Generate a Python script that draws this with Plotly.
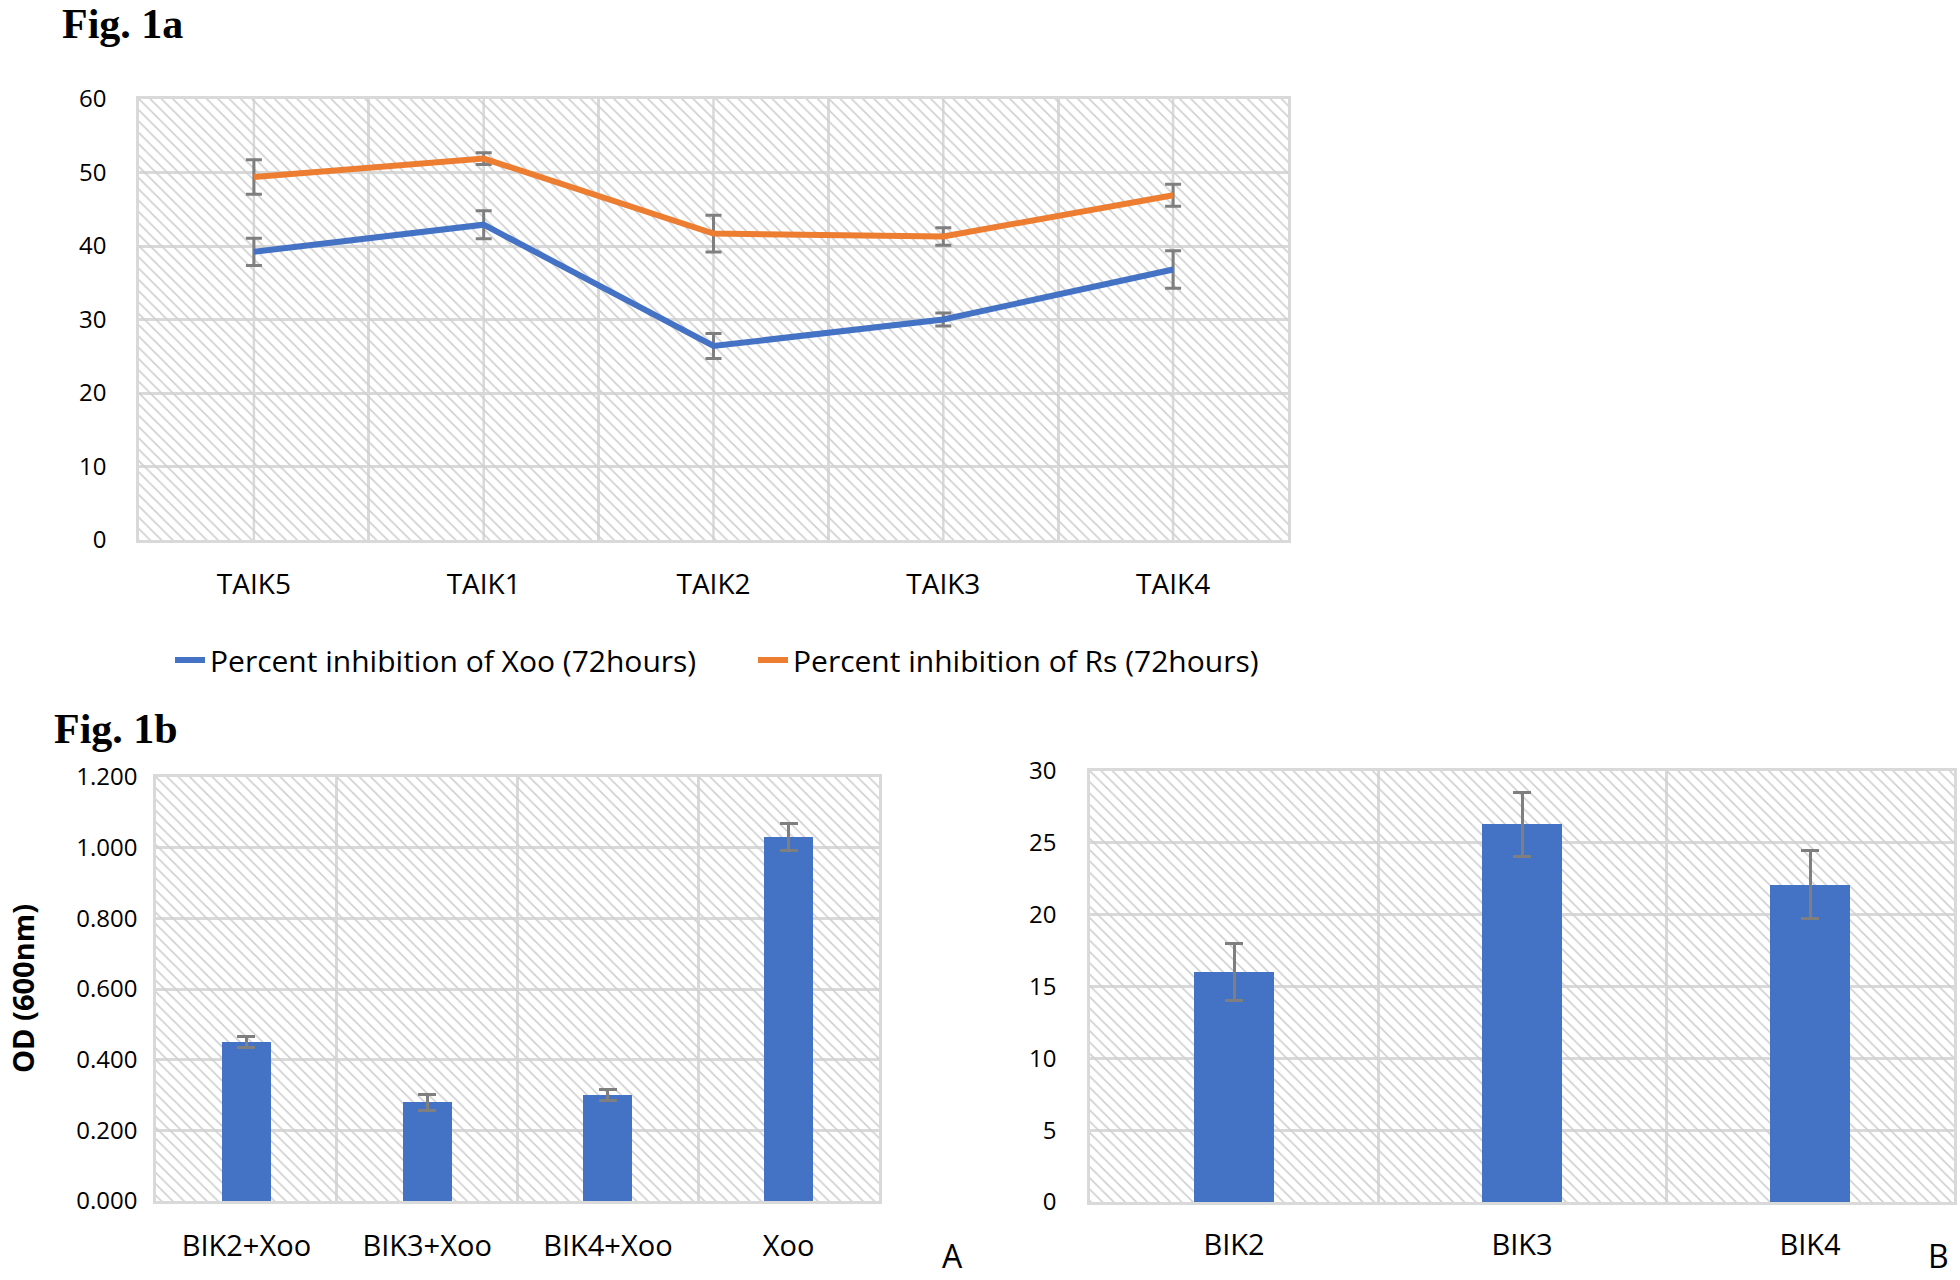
import plotly.graph_objects as go

W, H = 1960, 1280

# ---------------- data ----------------
# Fig. 1a
taik_cats = ["TAIK5", "TAIK1", "TAIK2", "TAIK3", "TAIK4"]
xoo_inhib = [39.2, 42.9, 26.4, 30.0, 36.8]
xoo_inhib_err = [1.85, 1.9, 1.7, 0.9, 2.55]
rs_inhib = [49.4, 51.9, 41.7, 41.3, 46.9]
rs_inhib_err = [2.35, 0.8, 2.5, 1.2, 1.5]
top_y_max, top_y_step = 60, 10

# Fig. 1b A
od_cats = ["BIK2+Xoo", "BIK3+Xoo", "BIK4+Xoo", "Xoo"]
od_vals = [0.450, 0.279, 0.300, 1.030]
od_err = [0.016, 0.022, 0.015, 0.038]
od_y_max, od_y_step = 1.2, 0.2

# Fig. 1b B
bik_cats = ["BIK2", "BIK3", "BIK4"]
bik_vals = [16.0, 26.3, 22.1]
bik_err = [1.97, 2.23, 2.4]
bik_y_max, bik_y_step = 30, 5

# ---------------- style ----------------
FONT = "Open Sans, Lato, sans-serif"
SERIF = "Liberation Serif, Times New Roman, serif"
BLUE = "#4472C4"
ORANGE = "#ED7D31"
ERR = "#7f7f7f"
GRID = "#d9d9d9"
HATCH = "#cfcfcf"


def px_x(v):
    return v / W


def px_y(v):
    return 1 - v / H


def hatch_bar(cats, ymax, xa, ya):
    return go.Bar(
        x=cats, y=[ymax] * len(cats), width=1,
        marker=dict(color=HATCH, line=dict(width=0),
                    pattern=dict(shape="\\", size=8, solidity=0.2, fillmode="replace")),
        hoverinfo="skip", showlegend=False, xaxis=xa, yaxis=ya,
    )


fig = go.Figure()

# top chart
fig.add_trace(hatch_bar(taik_cats, top_y_max, "x", "y"))
fig.add_trace(go.Scatter(
    x=taik_cats, y=xoo_inhib, mode="lines", name="Percent inhibition of Xoo (72hours)",
    line=dict(color=BLUE, width=6),
    error_y=dict(type="data", array=xoo_inhib_err, color=ERR, thickness=3, width=8),
    xaxis="x", yaxis="y",
))
fig.add_trace(go.Scatter(
    x=taik_cats, y=rs_inhib, mode="lines", name="Percent inhibition of Rs (72hours)",
    line=dict(color=ORANGE, width=6),
    error_y=dict(type="data", array=rs_inhib_err, color=ERR, thickness=3, width=8),
    xaxis="x", yaxis="y",
))

# A chart
fig.add_trace(hatch_bar(od_cats, od_y_max, "x2", "y2"))
fig.add_trace(go.Bar(
    x=od_cats, y=od_vals, width=0.27, marker=dict(color=BLUE, line=dict(width=0)),
    error_y=dict(type="data", array=od_err, color=ERR, thickness=3, width=9),
    showlegend=False, xaxis="x2", yaxis="y2",
))

# B chart
fig.add_trace(hatch_bar(bik_cats, bik_y_max, "x3", "y3"))
fig.add_trace(go.Bar(
    x=bik_cats, y=bik_vals, width=0.275, marker=dict(color=BLUE, line=dict(width=0)),
    error_y=dict(type="data", array=bik_err, color=ERR, thickness=3, width=9),
    showlegend=False, xaxis="x3", yaxis="y3",
))

common_x = dict(type="category", tickson="boundaries", showgrid=True, gridcolor=GRID,
                gridwidth=2.5, showline=True, mirror=True, linecolor=GRID, linewidth=2.5,
                ticks="", tickfont=dict(family=FONT, size=28, color="#000"), zeroline=False,
                fixedrange=True, automargin=False)
common_y = dict(showgrid=True, gridcolor=GRID, gridwidth=2.5, showline=True, mirror=True,
                linecolor=GRID, linewidth=2.5, ticks="", zeroline=False,
                tickfont=dict(family=FONT, size=24, color="#000"), fixedrange=True,
                automargin=False)

fig.update_layout(
    width=W, height=H, margin=dict(l=0, r=0, t=0, b=0, autoexpand=False),
    paper_bgcolor="white", plot_bgcolor="white",
    barmode="overlay", bargap=0,
    xaxis=dict(common_x, domain=[px_x(139), px_x(1288)], anchor="y", ticklabelstandoff=18),
    yaxis=dict(common_y, domain=[px_y(540), px_y(99)], anchor="x",
               range=[0, top_y_max], dtick=top_y_step, ticklabelstandoff=25),
    xaxis2=dict(common_x, domain=[px_x(156), px_x(879)], anchor="y2", ticklabelstandoff=17,
                tickfont=dict(family=FONT, size=29, color="#000")),
    yaxis2=dict(common_y, domain=[px_y(1201), px_y(777)], anchor="x2",
                range=[0, od_y_max], dtick=od_y_step, tickformat=".3f", ticklabelstandoff=11),
    xaxis3=dict(common_x, domain=[px_x(1090), px_x(1954)], anchor="y3", ticklabelstandoff=15,
                tickfont=dict(family=FONT, size=29, color="#000")),
    yaxis3=dict(common_y, domain=[px_y(1202), px_y(771)], anchor="x3",
                range=[0, bik_y_max], dtick=bik_y_step, ticklabelstandoff=26),
    legend=dict(orientation="h", x=px_x(170), xanchor="left", y=px_y(660), yanchor="middle",
                font=dict(family=FONT, size=30, color="#000"), bgcolor="rgba(0,0,0,0)",
                itemwidth=30, tracegroupgap=0, entrywidth=538),
    showlegend=True,
)

# centre grid lines of the line chart (Excel draws them at every category too)
for c in taik_cats:
    fig.add_shape(type="line", x0=c, x1=c, xref="x", y0=0, y1=1, yref="y domain",
                  line=dict(color=GRID, width=2.5), layer="below")

ann = [
    dict(text="<b>Fig. 1a</b>", x=px_x(60), y=px_y(24), xanchor="left", yanchor="middle",
         font=dict(family=SERIF, size=42, color="#000")),
    dict(text="<b>Fig. 1b</b>", x=px_x(52), y=px_y(729), xanchor="left", yanchor="middle",
         font=dict(family=SERIF, size=42, color="#000")),
    dict(text="<b>OD (600nm)</b>", x=px_x(22), y=px_y(989), xanchor="center", yanchor="middle",
         textangle=-90, font=dict(family=FONT, size=29, color="#000")),
    dict(text="A", x=px_x(952), y=px_y(1278), xanchor="center", yanchor="bottom",
         font=dict(family=FONT, size=32, color="#000"), borderpad=0),
    dict(text="B", x=px_x(1938), y=px_y(1278), xanchor="center", yanchor="bottom",
         font=dict(family=FONT, size=32, color="#000"), borderpad=0),
]
for a in ann:
    fig.add_annotation(xref="paper", yref="paper", showarrow=False, **a)

fig.write_html("out.html", config={"displayModeBar": False},
               post_script="document.body.style.margin='0';")
